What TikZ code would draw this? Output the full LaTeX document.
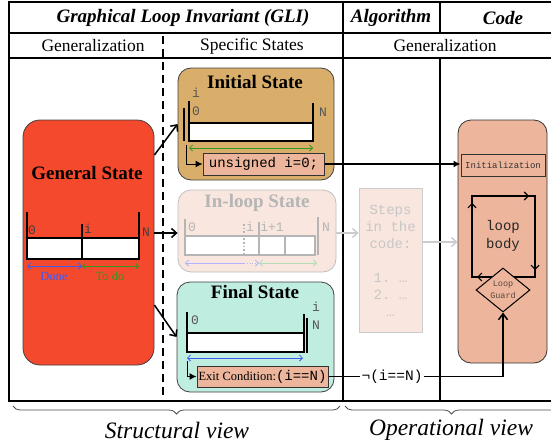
\documentclass[tikz,border=0pt]{standalone}
\usepackage{fontspec}
\setmainfont{Liberation Serif}
\setmonofont{Liberation Mono}
\usetikzlibrary{arrows.meta,shapes.geometric,decorations.pathreplacing}

\definecolor{genred}{HTML}{F4492D}
\definecolor{inittan}{HTML}{D9AE6B}
\definecolor{loopbg}{HTML}{F8E6DF}
\definecolor{finalmint}{HTML}{BFEDE0}
\definecolor{codesalmon}{HTML}{ECB59C}
\definecolor{fadegray}{HTML}{B5B5B5}
\definecolor{doneblue}{HTML}{3D5BF0}
\definecolor{todogreen}{HTML}{2E9A1E}
\definecolor{labgray}{HTML}{555555}
\definecolor{guardtxt}{HTML}{5A4A40}

\newcommand\fsz[1]{\fontsize{#1pt}{#1pt}\selectfont}

\tikzset{
  gridline/.style={line width=2.4pt},
  conn/.style={line width=1.5pt},
  barbtip/.style={-{Straight Barb[length=5pt,width=9pt]}},
  filltip/.style={-{Latex[length=7pt,width=7pt]}},
  spanarrow/.style={line width=0.8pt,{Straight Barb[length=3pt,width=6pt]}-{Straight Barb[length=3pt,width=6pt]}},
  statebox/.style={draw=black!75,line width=0.8pt,rounded corners=13pt},
  codebox/.style={draw=black!80,line width=1pt,fill=codesalmon,inner sep=0pt},
  arrline/.style={line width=2pt},
  idx/.style={font=\ttfamily\fsz{13},text=labgray,inner sep=0pt},
  title/.style={font=\bfseries\fsz{19}},
  head/.style={font=\bfseries\itshape\fsz{19}},
  sub/.style={font=\fsz{17.5}},
}

\begin{document}
\begin{tikzpicture}[x=1pt,y=-1pt]
\useasboundingbox (0,0) rectangle (551,447);

% table frame
\draw[gridline] (553,2) -- (9,2) -- (9,401) -- (553,401);
\draw[gridline] (9,33) -- (553,33);
\draw[gridline] (9,58) -- (553,58);
\draw[gridline] (343,2) -- (343,401);
\draw[gridline] (440,2) -- (440,33);
\draw[gridline] (440,58) -- (440,401);
\draw[line width=2.4pt,dash pattern=on 8pt off 5pt] (163,36) -- (163,401);

% header texts
\node[head] (hgli) at (183,18) {Graphical Loop Invariant (GLI)};
\node[head] (halg) at (391,18) {Algorithm};
\node[head] (hcode) at (503,18) {Code};
\node[sub] (sgen) at (93,46) {Generalization};
\node[sub] (sspec) at (252,46) {Specific States};
\node[sub] (sgen2) at (445,46) {Generalization};

% general state
\node[statebox,fill=genred,rounded corners=17pt,minimum width=131pt,minimum height=245pt] (gen) at (88.5,242.5) {};
\node[title] (gentitle) at (87,173) {General State};
\fill[white] (27,238) rectangle (139,259);
\draw[arrline] (27,212) -- (27,259) -- (139,259) -- (139,212);
\draw[arrline] (27,238) -- (139,238);
\draw[arrline] (82,224) -- (82,259);
\node[idx,text=black!75] (g0) at (32,230) {0};
\node[idx,text=black!75] (gi) at (88,229) {i};
\node[idx,text=black!75] (gN) at (146,232) {N};
\draw[spanarrow,doneblue] (27,266) -- (82,266);
\draw[spanarrow,todogreen] (82,266) -- (139,266);
\node[font=\fsz{12.5},text=doneblue] (done) at (54,276) {Done};
\node[font=\fsz{12.5},text=todogreen] (todo) at (110,276) {To do};

% initial state
\node[statebox,fill=inittan,minimum width=156pt,minimum height=112pt] (init) at (256,124) {};
\node[title] (inittitle) at (255,82) {Initial State};
\fill[white] (189,123) rectangle (313,141);
\draw[arrline] (189,101) -- (189,141) -- (313,141) -- (313,103);
\draw[arrline] (189,123) -- (313,123);
\draw[arrline] (184,108) -- (184,141);
\node[idx] (ii) at (196,93) {i};
\node[idx] (i0) at (196,111) {0};
\node[idx] (iN) at (323,112) {N};
\draw[spanarrow,todogreen] (189,148) -- (313,148);
\node[codebox,minimum width=121pt,minimum height=22pt] (uns) at (263.5,164) {\ttfamily\fsz{14}unsigned i=0;};
\coordinate (initfoot) at (186,145);
\draw[line width=1pt,filltip] (initfoot) |- (uns.west);

% in-loop state (faded)
\node[statebox,draw=black!25,fill=loopbg,minimum width=158pt,minimum height=82pt] (inloop) at (257,231) {};
\node[title,text=fadegray] (looptitle) at (257,203) {In-loop State};
\begin{scope}[fadegray,line width=1.6pt]
  \fill[white] (185,236) rectangle (315,255);
  \draw (185,236) rectangle (315,255);
  \draw (185,219) -- (185,236);
  \draw (259,222) -- (259,255);
  \draw (285,236) -- (285,255);
  \draw[dotted] (244,224) -- (244,255);
  \draw (318,217) -- (318,255);
\end{scope}
\node[idx,text=fadegray] (l0) at (192,227) {0};
\node[idx,text=fadegray] (li) at (250,227) {i};
\node[idx,text=fadegray] (li1) at (272,227) {i+1};
\node[idx,text=fadegray] (lN) at (326,227) {N};
\draw[line width=0.8pt,blue!30,{Straight Barb[length=3pt,width=6pt]}-] (185,263) -- (244,263);
\draw[line width=0.8pt,blue!30,dotted,-{Straight Barb[length=3pt,width=6pt]}] (244,263) -- (259,263);
\draw[spanarrow,green!60!black!30] (259,263) -- (317,263);

% final state
\node[statebox,fill=finalmint,minimum width=157pt,minimum height=110pt] (final) at (255.5,337) {};
\node[title] (finaltitle) at (255,292) {Final State};
\fill[white] (187,333) rectangle (304,352);
\draw[arrline] (187,312) -- (187,352) -- (304,352) -- (304,314);
\draw[arrline] (187,333) -- (304,333);
\draw[arrline] (307,318) -- (307,353);
\node[idx] (f0) at (195,320) {0};
\node[idx] (fi) at (316,307) {i};
\node[idx] (fN) at (316,325) {N};
\draw[spanarrow,doneblue] (187,358) -- (303,358);
\node[codebox,minimum width=131pt,minimum height=21pt] (exit) at (262.5,376.5) {\fsz{12.5}Exit Condition:{\ttfamily\fsz{14}(i==N)}};
\coordinate (finalfoot) at (187,361);
\draw[line width=1pt,filltip] (finalfoot) |- (exit.west);

% general state to specific states
\draw[conn,barbtip] ([yshift=87.5pt]gen.east) -- (init.west);
\draw[conn,barbtip] ([yshift=9.5pt]gen.east) -- ([yshift=-2pt]inloop.west);
\draw[conn,barbtip] ([yshift=-62.5pt]gen.east) -- (final.west);

% algorithm steps (faded)
\node[draw=black!20,line width=0.8pt,fill=loopbg,minimum width=63pt,minimum height=144pt] (steps) at (390.5,260) {};
\node[font=\ttfamily\fsz{14},text=black!22,align=center,text depth=0pt,
      execute at begin node=\setlength{\baselineskip}{17pt}] (stepstxt) at (390.5,261)
  {Steps\\in the\\code:\\[17pt]1. …\\2. …\\…};

% code
\node[statebox,draw=black!80,fill=codesalmon,minimum width=89pt,minimum height=243pt] (code) at (502.5,241.5) {};
\node[codebox,minimum width=84pt,minimum height=22pt] (initz) at (503,165) {\ttfamily\fsz{9}\color{black!80}Initialization};
\begin{scope}[line width=1.1pt]
  \draw (472,277) rectangle (535,196);
  \draw[-{Straight Barb[length=4pt,width=8pt]}] (472,240) -- (472,203);
  \draw[-{Straight Barb[length=4pt,width=8pt]}] (500,196) -- (529,196);
  \draw[-{Straight Barb[length=4pt,width=8pt]}] (535,240) -- (535,270);
  \draw[-{Straight Barb[length=4pt,width=8pt]}] (500,277) -- (477,277);
\end{scope}
\node[font=\ttfamily\fsz{14},text=black!85,align=center,
      execute at begin node=\setlength{\baselineskip}{18pt}] (body) at (503,236) {loop\\body};
\node[diamond,draw,line width=1pt,fill=codesalmon,inner sep=0pt,shape aspect=1.25,
      minimum width=54pt,minimum height=44pt,align=center,font=\ttfamily\fsz{8.5},text=guardtxt,
      execute at begin node=\setlength{\baselineskip}{12pt}] (guard) at (503,290) {Loop\\Guard};

% faded connectors through the algorithm column
\draw[line width=1.5pt,black!20,-{Straight Barb[length=5pt,width=9pt]}] ([yshift=-2pt]inloop.east) -- ([yshift=27pt]steps.west);
\draw[line width=1.5pt,black!20,-{Straight Barb[length=5pt,width=9pt]}] ([yshift=18pt]steps.east) -- ([yshift=-0.5pt]code.west);

% code connectors
\draw[conn,filltip] (uns.east) -- (initz.west |- uns.east);
\node[fill=white,inner sep=1pt,font=\ttfamily\fsz{14.5}] (neg) at (392,376.5) {¬(i==N)};
\draw[conn] (exit.east) -- (neg.west);
\draw[conn,-{Straight Barb[length=6pt,width=9pt]}] (neg.east) -| (guard.south);

% view braces
\draw[black!70,line width=0.8pt,decorate,decoration={brace,mirror,amplitude=8pt}] (13,406) -- (340,406);
\draw[black!70,line width=0.8pt,decorate,decoration={brace,mirror,amplitude=8pt}] (345,406) -- (558,406);
\node[font=\itshape\fsz{23.5}] (sview) at (177,430) {Structural view};
\node[font=\itshape\fsz{23.5}] (oview) at (451,430) {Operational view};
\end{tikzpicture}
\end{document}
